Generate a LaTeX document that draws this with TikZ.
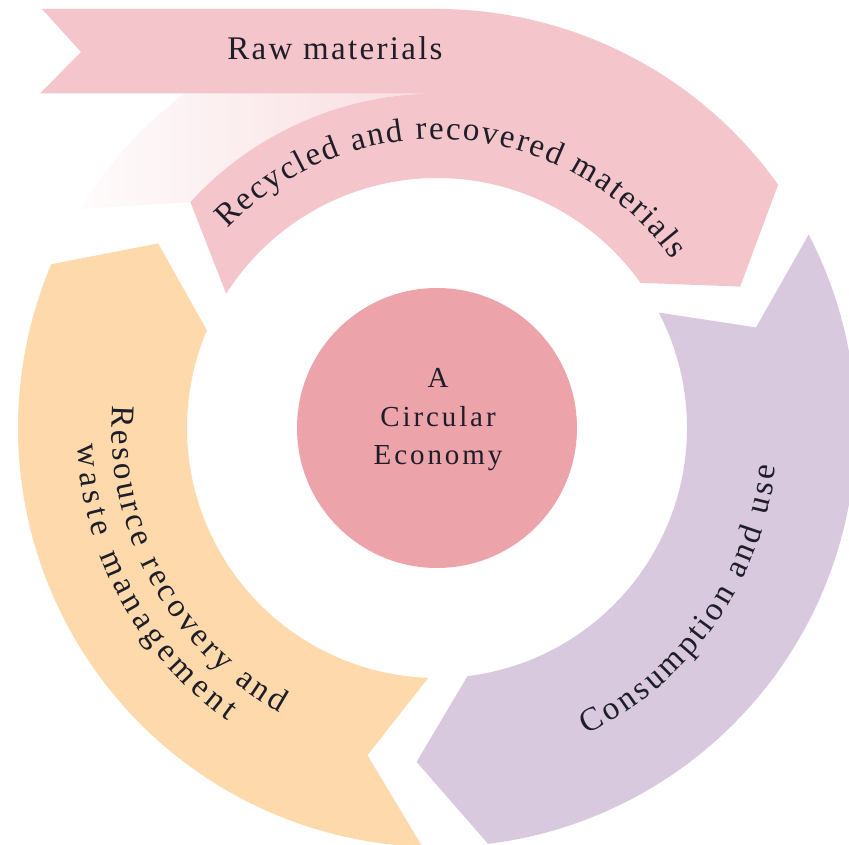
\documentclass[tikz,border=0pt]{standalone}
\usepackage{fontspec}
\setmainfont{Liberation Serif}
\newfontfamily\spacedA[LetterSpace=7]{Liberation Serif}
\newfontfamily\spacedB[LetterSpace=10]{Liberation Serif}
\usetikzlibrary{decorations.text}
\definecolor{pinkband}{HTML}{F4C5CB}
\definecolor{corepink}{HTML}{EDA3AA}
\definecolor{orangeband}{HTML}{FDD9AB}
\definecolor{purpleband}{HTML}{D9C9DF}
\definecolor{txt}{HTML}{1E1E28}
\newcommand\curvefont{\fontsize{33}{40}\selectfont\color{txt}}
\tikzset{
  bandtext/.style={decorate, decoration={text along path, text align={fit to path}, text={|\curvefont|#1}}},
  flat/.style={font=\spacedA\fontsize{33}{40}\selectfont, text=txt, anchor=base, inner sep=0pt},
  coretext/.style={font=\spacedB\fontsize{29}{35}\selectfont, text=txt, anchor=base, inner sep=0pt}
}
\begin{document}
\begin{tikzpicture}[x=1pt,y=1pt]
\useasboundingbox (0,0) rectangle (849,845);
\begin{scope}[shift={(437,417)}]
  % faded continuation of outer half of pink arrow
  \shade[left color=pinkband!6, right color=pinkband!60]
    (137.5:334.5pt) -- (148.5:419pt) arc[start angle=148.5, end angle=90, radius=419pt]
    -- (0,334.5) arc[start angle=90, end angle=137.5, radius=334.5pt] -- cycle;
  % pink arrow with banner
  \fill[pinkband] (-395,419) -- (0,419) arc[start angle=90, end angle=35.5, radius=419pt]
    -- (25:334.5pt) -- (35.5:250pt) arc[start angle=35.5, end angle=147.5, radius=250pt]
    -- (137.5:334.5pt) arc[start angle=137.5, end angle=90, radius=334.5pt]
    -- (-397,334.5) -- (-356,376) -- cycle;
  % purple arrow
  \fill[purpleband] (27.5:419pt) arc[start angle=27.5, end angle=-83, radius=419pt]
    -- (-93.5:334.5pt) -- (-83:250pt) arc[start angle=-83, end angle=27.5, radius=250pt]
    -- (17.5:334.5pt) -- cycle;
  % orange arrow
  \fill[orangeband] (268:419pt) arc[start angle=268, end angle=157, radius=419pt]
    -- (146.5:334.5pt) -- (157:250pt) arc[start angle=157, end angle=268, radius=250pt]
    -- (258:334.5pt) -- cycle;
  % centre
  \node[circle, fill=corepink, minimum size=280pt, inner sep=0pt] (core) at (0,0) {};
  \node[coretext] (coreA) at (1,40) {A};
  \node[coretext] (coreB) at (1,1) {Circular};
  \node[coretext] (coreC) at (1,-37) {Economy};
  % labels
  \node[flat] (raw) at (-102,368) {Raw materials};
  \path[bandtext={Recycled and recovered materials}]
    (136.5:289pt) arc[start angle=136.5, end angle=35.5, radius=289pt];
  \path[bandtext={Consumption and use}]
    (-64:341pt) arc[start angle=-64, end angle=-6.5, radius=341pt];
  \path[bandtext={Resource recovery and}]
    (176:325pt) arc[start angle=176, end angle=241, radius=325pt];
  \path[bandtext={waste management}]
    (182.7:360pt) arc[start angle=182.7, end angle=234.5, radius=360pt];
\end{scope}
\end{tikzpicture}
\end{document}
